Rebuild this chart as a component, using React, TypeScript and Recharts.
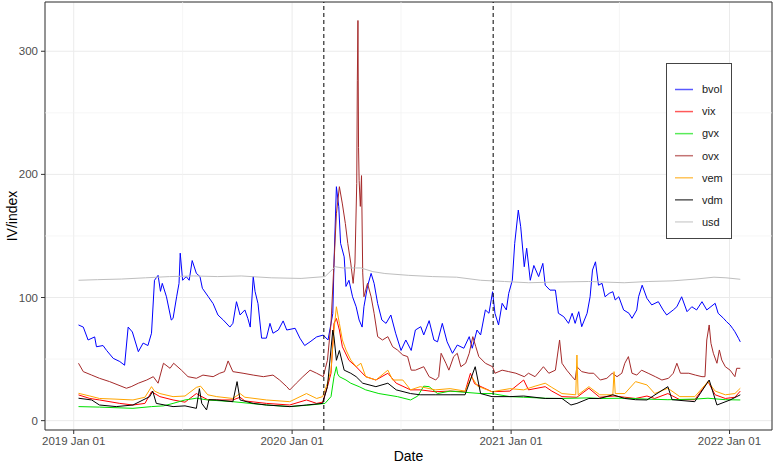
import React from 'react';
import {
  LineChart,
  Line,
  XAxis,
  YAxis,
  CartesianGrid,
  ReferenceLine,
  ReferenceArea,
  Legend,
} from 'recharts';

// x = days since 2019-01-01, y = implied volatility / index level
type Pt = [number, number];

const bvol: Pt[] = [
  [8, 77.7], [16, 76], [24, 65.5], [35, 68], [38, 60], [49, 61], [55, 57], [66, 50.6], [77, 48], [85, 45],
  [91, 76], [98, 72], [108, 56], [116, 63], [124, 61], [130, 71], [135, 114], [141, 118], [145, 105], [148, 111.5],
  [155, 100.6], [163, 81.7], [166, 83], [172, 100.6], [176, 111.5], [178, 136], [182, 114], [188, 117], [193, 114], [198, 130],
  [205, 119.6], [211, 117], [215, 107.5], [225, 100.6], [233, 95], [241, 85.8], [250, 81.7], [261, 76], [266, 79], [272, 96.6],
  [278, 85.8], [286, 89.9], [291, 83], [295, 76], [300, 117], [303, 105], [308, 95], [314, 67], [322, 67], [328, 79],
  [333, 71], [342, 73.6], [350, 81], [356, 73.6], [370, 75], [378, 67], [386, 61], [395, 64], [406, 68], [417, 69.5],
  [425, 65.5], [433, 87], [435, 128], [439, 190], [443, 173.7], [446, 144], [452, 133], [455, 109], [460, 114], [466, 100.6],
  [472, 92.5], [477, 81.7], [482, 76], [485, 92.5], [491, 109], [497, 119.6], [502, 111.5], [508, 95], [515, 81.7], [522, 79],
  [530, 85.8], [538, 71], [547, 57], [555, 65.5], [564, 57], [571, 73.6], [580, 76.3], [585, 69.6], [594, 81.2], [602, 65.5],
  [608, 64], [616, 79], [624, 64], [633, 54.7], [641, 61.4], [652, 58.8], [661, 68.2], [666, 58.8], [674, 73.6], [680, 69.6],
  [688, 89.9], [694, 87.2], [700, 104.7], [704, 87.2], [710, 77.7], [716, 95.3], [723, 89.9], [727, 103.4], [733, 114], [737, 144],
  [743, 171], [747, 157.5], [753, 125], [757, 140], [763, 114], [769, 126], [777, 117], [784, 127.7], [788, 110], [796, 106],
  [805, 106], [810, 87.2], [819, 84.4], [827, 79], [833, 87.2], [838, 79], [844, 88.5], [849, 76.3], [858, 87.2], [863, 100.6],
  [867, 122.3], [872, 129], [877, 110], [883, 111.5], [888, 100.6], [895, 103.4], [901, 104.7], [905, 98], [911, 100.6], [919, 89.9],
  [928, 87.2], [933, 83.1], [941, 89.9], [944, 100.6], [950, 110], [958, 99.3], [966, 94], [977, 96.6], [985, 89.9], [991, 85.8],
  [1002, 89.9], [1008, 92.5], [1016, 100.6], [1025, 88.5], [1033, 92.5], [1041, 89.9], [1050, 96.6], [1058, 89.9], [1072, 95.3], [1077, 87.2],
  [1086, 83.1], [1091, 80.4], [1097, 77.7], [1101, 75], [1105, 72.2], [1111, 66.9], [1114, 64],
];

const vix: Pt[] = [
  [8, 20.9], [27, 18], [43, 16.8], [77, 14], [99, 12.7], [119, 14], [130, 23.5], [144, 19.5], [166, 16.8], [186, 15],
  [205, 22], [212, 20], [224, 17], [239, 16.8], [266, 16.8], [278, 19], [286, 16], [322, 14], [361, 12.7], [389, 16.8],
  [406, 14], [416, 15], [424, 27.6], [430, 38.5], [435, 79], [439, 83], [444, 73.6], [449, 60], [460, 49], [472, 43.8],
  [488, 35.7], [505, 33], [525, 38.5], [539, 30.4], [563, 25], [579, 25], [604, 23.5], [629, 24], [654, 23.5], [663, 38.5],
  [670, 30], [699, 23.5], [729, 24], [752, 33], [760, 25], [788, 27.6], [799, 24], [816, 19.5], [841, 19], [861, 26.3],
  [879, 19], [903, 20], [921, 19], [939, 18], [958, 20], [971, 18], [993, 22], [1013, 17], [1038, 17], [1060, 31.7],
  [1072, 21], [1089, 18], [1105, 19], [1114, 24],
];

const gvx: Pt[] = [
  [8, 11.4], [43, 11], [99, 10], [130, 11.4], [150, 12], [166, 14], [186, 16.8], [205, 18.2], [224, 16.8], [266, 15.4],
  [322, 12.7], [361, 11.4], [395, 12.7], [420, 14], [430, 19.5], [435, 35.7], [439, 43.8], [441, 38], [444, 35.7], [455, 33],
  [463, 30.4], [477, 27.6], [488, 25], [510, 22], [541, 19.5], [563, 16.8], [575, 20], [585, 28], [594, 27.6], [608, 22],
  [629, 24], [654, 23], [680, 22], [699, 22], [729, 19.5], [752, 19], [788, 18.2], [816, 18], [861, 18.5], [879, 18],
  [921, 18.2], [958, 17.5], [993, 17], [1038, 17.5], [1060, 18.2], [1089, 17], [1114, 16.8],
];

const ovx: Pt[] = [
  [8, 46.6], [16, 39.8], [30, 37], [43, 34.4], [60, 31.7], [74, 29], [88, 26.3], [96, 27.6], [108, 30.4], [122, 33],
  [133, 35.7], [141, 30.4], [150, 46.6], [161, 42.5], [167, 46.6], [180, 41], [191, 35.7], [205, 34.4], [216, 37], [233, 35.7],
  [244, 38.5], [252, 39.8], [258, 48.5], [266, 39.8], [283, 38.5], [300, 37], [317, 35.7], [333, 37], [344, 33], [356, 27.6],
  [361, 24.9], [372, 30.4], [383, 35.7], [395, 41], [406, 38.5], [417, 35.7], [424, 49], [430, 79], [435, 128], [439, 168],
  [444, 190], [449, 176], [454, 160], [458, 144], [463, 128], [467, 111.5], [470, 128], [473, 192.7], [474, 276], [475, 325],
  [476, 222], [477, 195], [479, 174], [481, 199], [483, 120], [485, 100.6], [491, 111.5], [497, 100.6], [502, 87.2], [508, 68.2],
  [516, 65.5], [525, 68.2], [533, 60], [541, 57.4], [550, 53.3], [558, 52], [564, 41], [571, 41], [585, 43.8], [594, 35.7],
  [605, 33], [610, 35.7], [614, 54.7], [622, 46.6], [627, 41], [635, 52], [641, 54.7], [647, 43.8], [655, 46.6], [661, 54.7],
  [667, 68.2], [672, 60], [677, 52], [688, 46.6], [700, 43.8], [704, 38.5], [716, 41], [727, 39.8], [739, 38.5], [753, 35.7],
  [760, 38.5], [771, 35.7], [785, 43.8], [794, 38.5], [805, 41], [812, 65.5], [816, 46.6], [824, 41], [833, 35.7], [838, 33],
  [841, 43.8], [849, 39.8], [861, 38.5], [869, 38.5], [880, 33], [891, 34.4], [900, 38.5], [908, 35.7], [916, 38.5], [921, 46.6],
  [927, 52], [933, 38.5], [941, 37], [949, 41], [960, 38.5], [972, 35.7], [983, 33], [994, 34.4], [1002, 38.5], [1008, 46.6],
  [1014, 38.5], [1028, 38.5], [1039, 37], [1050, 35.7], [1055, 35.7], [1058, 65.5], [1062, 77.7], [1065, 62.8], [1069, 54.7], [1075, 46.6],
  [1079, 57.4], [1083, 49.3], [1089, 43.8], [1097, 41], [1105, 35.7], [1108, 42.5], [1114, 42.5],
];

const vem: Pt[] = [
  [8, 22.2], [27, 20], [43, 18], [69, 17.5], [99, 16.8], [119, 19], [130, 27.6], [135, 24], [144, 22], [166, 19.5],
  [186, 20], [205, 27], [212, 28], [224, 21], [239, 19.5], [266, 18], [278, 22], [286, 19], [322, 16.8], [361, 15.4],
  [389, 22], [406, 18], [416, 19.5], [424, 30.4], [430, 41], [435, 73.6], [439, 92.5], [444, 79], [449, 65.5], [455, 57.4],
  [463, 49.3], [472, 43.8], [480, 46.6], [488, 35.7], [505, 33], [525, 41], [533, 33], [550, 33], [563, 25], [579, 27.6],
  [604, 25], [629, 26], [654, 24], [665, 35.7], [675, 28], [699, 23.5], [729, 26], [752, 25], [771, 28], [788, 30.4],
  [799, 27], [816, 22], [839, 21], [841, 53.3], [843, 21], [861, 27.6], [879, 21], [901, 21], [903, 39.8], [905, 22],
  [921, 22], [939, 31.7], [958, 29], [971, 22], [993, 26.3], [1013, 19.5], [1038, 19.5], [1060, 31.7], [1072, 24], [1089, 21],
  [1105, 22], [1114, 26.3],
];

const vdm: Pt[] = [
  [8, 18.2], [30, 16.8], [43, 12.7], [71, 11.4], [99, 12.7], [127, 19.5], [132, 24], [138, 14], [166, 11.4], [186, 12],
  [205, 10], [210, 26], [214, 14], [222, 8.7], [226, 17], [239, 16.8], [266, 15.4], [273, 31.7], [278, 16.8], [300, 14],
  [322, 12.7], [361, 11.4], [389, 12.7], [416, 14], [424, 27.6], [433, 73.6], [435, 68], [439, 49], [444, 57], [452, 41],
  [463, 38.5], [472, 35.7], [483, 30.4], [505, 27.6], [525, 30.4], [539, 25], [563, 22], [579, 21], [604, 21], [629, 21],
  [654, 21], [671, 43.8], [680, 22], [699, 19.5], [729, 19.5], [752, 20], [788, 18], [816, 18], [831, 12.7], [841, 14],
  [861, 18], [879, 18], [901, 21], [921, 18], [939, 17], [958, 16.8], [993, 27.6], [1000, 17], [1038, 15.4], [1062, 33],
  [1075, 12.7], [1097, 16.8], [1114, 21],
];

const usd: Pt[] = [
  [8, 114], [40, 114.5], [80, 115], [120, 116], [160, 117], [200, 117.5], [240, 117], [280, 117.5], [330, 116], [380, 115.5],
  [420, 117], [437, 125], [450, 124], [480, 124], [500, 121], [520, 119.5], [560, 118], [600, 117], [640, 116.5], [680, 114],
  [720, 113], [760, 112], [800, 112.5], [860, 113], [920, 112], [960, 113], [1000, 113.5], [1040, 115], [1070, 116.5], [1090, 116],
  [1114, 114.8],
];

const yearTicks = [0, 365, 731, 1096];
const yearLabels = ['2019 Jan 01', '2020 Jan 01', '2021 Jan 01', '2022 Jan 01'];
const minorXTicks = [182, 547, 912];
const yTicks = [0, 100, 200, 300];
const minorYTicks = [50, 150, 250];
const eventDays = [418, 701];

const series = [
  { name: 'bvol', color: '#0000FF', data: bvol },
  { name: 'vix', color: '#FF0000', data: vix },
  { name: 'gvx', color: '#00E000', data: gvx },
  { name: 'ovx', color: '#A52A2A', data: ovx },
  { name: 'vem', color: '#FFA500', data: vem },
  { name: 'vdm', color: '#000000', data: vdm },
  { name: 'usd', color: '#BEBEBE', data: usd },
];

const X_DOMAIN: [number, number] = [-48, 1167];
const Y_DOMAIN: [number, number] = [-7.6, 340];

const renderLegend = () => (
  <svg width={67} height={177}>
    <rect x={0.5} y={0.5} width={65} height={175} fill="#fff" stroke="#444" strokeWidth={1} />
    {series.map((s, i) => {
      const y = 26.5 + i * 22.07;
      return (
        <g key={s.name}>
          <line x1={9} x2={27} y1={y} y2={y} stroke={s.color} strokeOpacity={0.65} strokeWidth={1.5} />
          <text x={36} y={y} dy="0.35em" fontSize={11} fill="#1a1a1a">
            {s.name}
          </text>
        </g>
      );
    })}
  </svg>
);

export default function App() {
  return (
    <div style={{ position: 'absolute', left: 0, top: 0, fontFamily: '"Liberation Sans", Arial, sans-serif' }}>
      <LineChart width={775} height={465} margin={{ top: 2, right: 3, bottom: 0, left: 0 }}>
        <CartesianGrid stroke="#EBEBEB" strokeWidth={1} />
        {minorYTicks.map((v) => (
          <ReferenceLine key={`my${v}`} y={v} stroke="#F2F2F2" strokeWidth={0.7} />
        ))}
        {minorXTicks.map((v) => (
          <ReferenceLine key={`mx${v}`} x={v} stroke="#F2F2F2" strokeWidth={0.7} />
        ))}
        <XAxis
          type="number"
          dataKey="d"
          domain={X_DOMAIN}
          ticks={yearTicks}
          tickFormatter={(v: number) => yearLabels[yearTicks.indexOf(v)] ?? ''}
          allowDataOverflow
          height={35}
          tickSize={4}
          tickMargin={3}
          axisLine={false}
          tickLine={{ stroke: '#333333' }}
          tick={{ fill: '#4D4D4D', fontSize: 11.5 }}
          label={{ value: 'Date', position: 'insideBottom', offset: 4, fontSize: 14, fill: '#000' }}
        />
        <YAxis
          type="number"
          domain={Y_DOMAIN}
          ticks={yTicks}
          allowDataOverflow
          width={45}
          tickSize={4}
          tickMargin={3}
          axisLine={false}
          tickLine={{ stroke: '#333333' }}
          tick={{ fill: '#4D4D4D', fontSize: 11.5 }}
          label={{
            value: 'IV/index',
            angle: -90,
            position: 'insideLeft',
            offset: 12,
            fontSize: 14,
            fill: '#000',
            style: { textAnchor: 'middle' },
          }}
        />
        {series.map((s) => (
          <Line
            key={s.name}
            data={s.data.map(([d, v]) => ({ d, v }))}
            dataKey="v"
            name={s.name}
            type="linear"
            stroke={s.color}
            strokeWidth={1}
            dot={false}
            activeDot={false}
            isAnimationActive={false}
          />
        ))}
        {eventDays.map((d) => (
          <ReferenceLine key={`ev${d}`} x={d} stroke="#000" strokeWidth={1} strokeDasharray="4 3" />
        ))}
        <ReferenceArea
          x1={X_DOMAIN[0]}
          x2={X_DOMAIN[1]}
          y1={Y_DOMAIN[0]}
          y2={Y_DOMAIN[1]}
          fill="none"
          fillOpacity={0}
          stroke="#333333"
          strokeWidth={1}
        />
        <Legend
          layout="horizontal"
          verticalAlign="middle"
          align="center"
          wrapperStyle={{ left: 666, top: 63, width: 67, height: 177, right: 'auto', bottom: 'auto' }}
          content={renderLegend}
        />
      </LineChart>
    </div>
  );
}
